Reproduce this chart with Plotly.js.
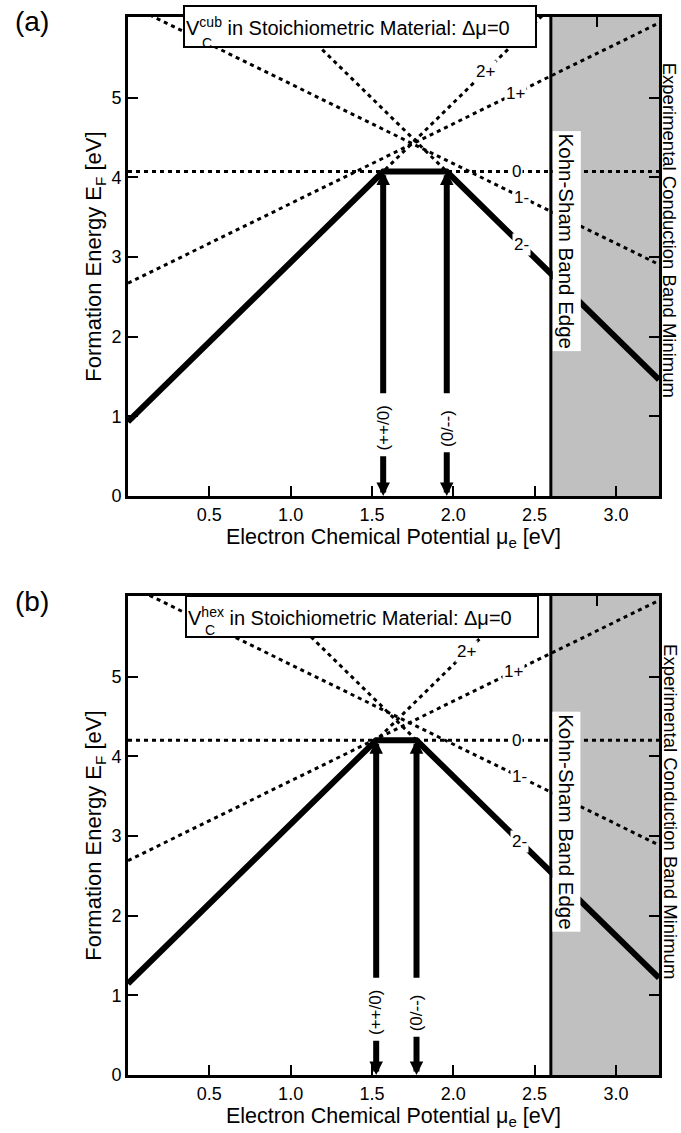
<!DOCTYPE html>
<html>
<head>
<meta charset="utf-8">
<script src="https://cdn.plot.ly/plotly-3.0.1.min.js"></script>
<style>
  html, body { margin: 0; padding: 0; background: #fff; }
  #chart { width: 681px; height: 1133px; }
</style>
</head>
<body>
<div id="chart"></div>
<script>
// Carbon vacancy (V_C) formation energy versus electron chemical potential,
// cubic (a) and hexagonal (b) lattice sites, stoichiometric material.

const charges = [2, 1, 0, -1, -2];
const chargeLabels = ['2+', '1+', '0', '1-', '2-'];

// Formation energy of each charge state at mu_e = 0 [eV]
const cubIntercepts = [0.932, 2.67, 4.07, 6.17, 7.99];
const hexIntercepts = [1.148, 2.69, 4.20, 6.15, 7.748];

// Position of each charge label along its line [eV]
const cubLabelMu = [2.20, 2.38, 2.39, 2.42, 2.42];
const hexLabelMu = [2.08, 2.37, 2.39, 2.41, 2.41];

const ksEdge = 2.60;    // Kohn-Sham conduction band edge [eV]
const expEdge = 3.265;  // experimental conduction band minimum [eV]

const xTicks = [0.5, 1.0, 1.5, 2.0, 2.5, 3.0];
const yTicks = [0, 1, 2, 3, 4, 5];
const yMax = 6.01;

const FONT = 'Liberation Sans, Arial, Helvetica, sans-serif';

const sym = q => q === 0 ? '0' : (q > 0 ? '+'.repeat(q) : '-'.repeat(-q));

// Lower envelope of the formation-energy lines and the transition levels on it
function lowerEnvelope(b) {
  const E = (i, mu) => b[i] + charges[i] * mu;
  const stable = mu => charges.reduce((k, _, i) => (E(i, mu) < E(k, mu) ? i : k), 0);
  const fmin = mu => Math.min(...charges.map((_, i) => E(i, mu)));
  const cuts = [];
  for (let i = 0; i < b.length; i++) {
    for (let j = i + 1; j < b.length; j++) {
      const mu = (b[j] - b[i]) / (charges[i] - charges[j]);
      if (mu > 0 && mu < expEdge) cuts.push(mu);
    }
  }
  cuts.sort((a, c) => a - c);
  const bounds = [0, ...cuts, expEdge];
  const xs = [0];
  const trans = [];
  let prev = stable((bounds[0] + bounds[1]) / 2);
  for (let k = 1; k < bounds.length - 1; k++) {
    const s = stable((bounds[k] + bounds[k + 1]) / 2);
    if (s !== prev) {
      xs.push(bounds[k]);
      trans.push({ mu: bounds[k], e: fmin(bounds[k]), name: '(' + sym(charges[prev]) + '/' + sym(charges[s]) + ')' });
      prev = s;
    }
  }
  xs.push(expEdge);
  return { xs, ys: xs.map(fmin), trans };
}

const panels = [
  {
    letter: '(a)', site: 'cub', b: cubIntercepts, labelMu: cubLabelMu,
    xa: 'x', ya: 'y', xTop: 'x3', domain: [0.54726, 1],
    captionE: 0.85, ksLabelE: 3.2, expLabelE: 3.33,
    box: { x: 0.4375, y: 0.9797 }, sub: { x: 0.1482, y: 0.9457 }, letterY: 0.9957
  },
  {
    letter: '(b)', site: 'hex', b: hexIntercepts, labelMu: hexLabelMu,
    xa: 'x2', ya: 'y2', xTop: 'x4', domain: [0, 0.45274],
    captionE: 0.78, ksLabelE: 3.18, expLabelE: 3.3,
    box: { x: 0.4416, y: 0.9562 }, sub: { x: 0.1544, y: 0.929 }, letterY: 0.4471
  }
];

const traces = [];
const annotations = [];
const shapes = [];
const layout = {
  width: 681, height: 1133,
  margin: { l: 128, r: 22, t: 17, b: 58 },
  paper_bgcolor: '#ffffff', plot_bgcolor: '#ffffff',
  showlegend: false,
  font: { family: FONT, color: '#000' }
};

const axisCommon = {
  showline: true, linecolor: '#000', linewidth: 3,
  ticks: 'inside', ticklen: 10, tickwidth: 2, tickcolor: '#000',
  showgrid: false, zeroline: false, fixedrange: true,
  tickfont: { family: FONT, size: 18, color: '#000' }
};

function note(extra) {
  return Object.assign({ showarrow: false, xanchor: 'center', yanchor: 'middle' }, extra);
}

panels.forEach((p, n) => {
  const xs = [0, expEdge];

  // dotted line for every charge state
  charges.forEach((q, i) => {
    traces.push({
      x: xs, y: xs.map(mu => p.b[i] + q * mu),
      xaxis: p.xa, yaxis: p.ya, mode: 'lines', hoverinfo: 'skip',
      line: { color: '#000', width: 3, dash: '4px,4px' }
    });
  });

  // thermodynamically stable branch
  const env = lowerEnvelope(p.b);
  traces.push({
    x: env.xs, y: env.ys, xaxis: p.xa, yaxis: p.ya, mode: 'lines', hoverinfo: 'skip',
    line: { color: '#000', width: 6 }
  });

  // empty trace so the offset top axis is drawn
  traces.push({ x: [], y: [], xaxis: p.xTop, yaxis: p.ya, mode: 'lines', hoverinfo: 'skip' });

  // band-gap region between the Kohn-Sham and experimental conduction band edges
  shapes.push({
    type: 'rect', xref: p.xa, yref: p.ya + ' domain', x0: ksEdge, x1: expEdge, y0: 0, y1: 1,
    fillcolor: '#c0c0c0', line: { width: 0 }, layer: 'below'
  });
  shapes.push({
    type: 'line', xref: p.xa, yref: p.ya + ' domain', x0: ksEdge, x1: ksEdge, y0: 0, y1: 1,
    line: { color: '#000', width: 3 }, layer: 'above'
  });

  // charge labels on the lines
  charges.forEach((q, i) => {
    const mu = p.labelMu[i];
    annotations.push(note({
      xref: p.xa, yref: p.ya, x: mu, y: p.b[i] + q * mu, text: chargeLabels[i],
      bgcolor: '#fff', borderpad: 1,
      font: { family: FONT, size: 17, color: '#000' }
    }));
  });

  // transition levels: double arrows with caption
  env.trans.forEach(t => {
    annotations.push({
      xref: p.xa, yref: p.ya, axref: p.xa, ayref: p.ya,
      x: t.mu, y: 0, ax: t.mu, ay: p.captionE,
      text: t.name, textangle: -90, borderpad: 5,
      font: { family: FONT, size: 17, color: '#000' },
      showarrow: true, arrowhead: 2, arrowsize: 0.45, arrowwidth: 6, arrowcolor: '#000', standoff: 0
    });
    annotations.push({
      xref: p.xa, yref: p.ya, axref: p.xa, ayref: p.ya,
      x: t.mu, y: t.e, ax: t.mu, ay: p.captionE,
      text: ' ', font: { size: 1 },
      showarrow: true, arrowside: 'end+start', arrowhead: 2, startarrowhead: 0,
      arrowsize: 0.45, arrowwidth: 6, arrowcolor: '#000', standoff: 0, startstandoff: 33
    });
  });

  // band edge captions
  annotations.push(note({
    xref: p.xa, yref: p.ya, x: ksEdge, xanchor: 'left', xshift: 1, y: p.ksLabelE,
    text: 'Kohn-Sham Band Edge', textangle: 90,
    bgcolor: '#fff', borderpad: 2, font: { family: FONT, size: 20.5, color: '#000' }
  }));
  annotations.push(note({
    xref: 'paper', yref: p.ya, x: 1.0205, y: p.expLabelE,
    text: 'Experimental Conduction Band Minimum', textangle: 90,
    font: { family: FONT, size: 18.5, color: '#000' }
  }));

  // boxed title
  annotations.push(note({
    xref: p.xa + ' domain', yref: p.ya + ' domain', x: p.box.x, y: p.box.y,
    text: 'V<sup>' + p.site + '</sup> in Stoichiometric Material: Δμ=0',
    bgcolor: '#fff', bordercolor: '#000', borderwidth: 2, borderpad: 1,
    width: 348, height: 37, align: 'left',
    font: { family: FONT, size: 20, color: '#000' }
  }));
  annotations.push(note({
    xref: p.xa + ' domain', yref: p.ya + ' domain', x: p.sub.x, y: p.sub.y,
    text: 'C', font: { family: FONT, size: 14, color: '#000' }
  }));

  // panel letter
  annotations.push(note({
    xref: 'paper', yref: 'paper', x: -0.1808, y: p.letterY,
    text: p.letter, font: { family: FONT, size: 28, color: '#000' }
  }));

  const xName = n === 0 ? 'xaxis' : 'xaxis2';
  const yName = n === 0 ? 'yaxis' : 'yaxis2';
  const topName = n === 0 ? 'xaxis3' : 'xaxis4';

  layout[xName] = Object.assign({}, axisCommon, {
    domain: [0, 1], anchor: p.ya, range: [0, expEdge],
    tickvals: xTicks, tickformat: '.1f', mirror: true,
    title: { text: 'Electron Chemical Potential μ<sub>e</sub> [eV]', standoff: 2,
             font: { family: FONT, size: 21.5, color: '#000' } }
  });
  layout[yName] = Object.assign({}, axisCommon, {
    domain: p.domain, anchor: p.xa, range: [0, yMax],
    tickvals: yTicks, mirror: 'ticks',
    title: { text: 'Formation Energy E<sub>F</sub> [eV]', standoff: 4,
             font: { family: FONT, size: 22, color: '#000' } }
  });
  layout[topName] = Object.assign({}, axisCommon, {
    overlaying: p.xa, anchor: p.ya, side: 'top', showline: false,
    range: [0.117, expEdge + 0.117], dtick: 0.5, tick0: 0, showticklabels: false
  });
});

layout.annotations = annotations;
layout.shapes = shapes;

Plotly.newPlot('chart', traces, layout, { displayModeBar: false, staticPlot: true });
</script>
</body>
</html>
